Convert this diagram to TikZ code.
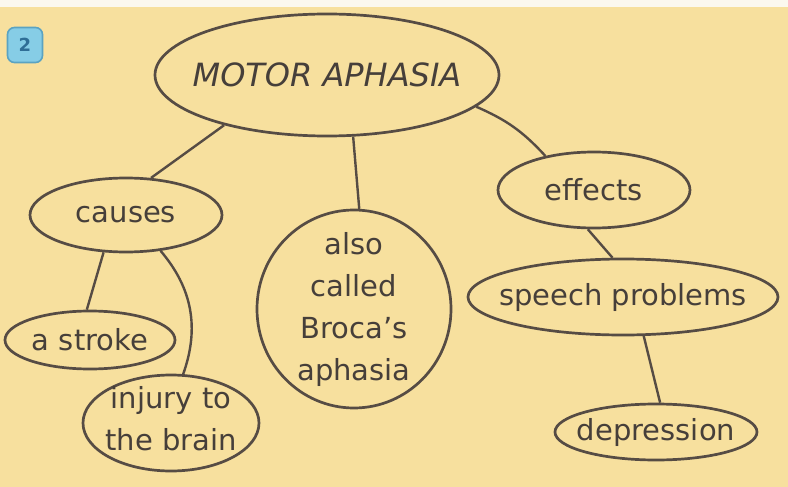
\documentclass[tikz,border=0pt]{standalone}
\usepackage{fontspec}
\setmainfont{DejaVu Sans}
\usetikzlibrary{shapes.geometric}
\definecolor{bg}{HTML}{F7E09E}
\definecolor{topstrip}{HTML}{FBF8EF}
\definecolor{ink}{HTML}{564C44}
\definecolor{txt}{HTML}{463F3A}
\definecolor{badgefill}{HTML}{86CDE6}
\definecolor{badgeborder}{HTML}{5AA3C2}
\definecolor{badgetext}{HTML}{2F6E96}
\begin{document}
\begin{tikzpicture}[x=1pt,y=-1pt,
  bubble/.style={ellipse, draw=ink, line width=2.7pt, inner sep=0pt},
  lbl/.style={text=txt, font=\fontsize{29}{42}\selectfont, align=center, inner sep=0pt},
  conn/.style={draw=ink, line width=2.4pt}]
\useasboundingbox (0,0) rectangle (788,487);
\fill[topstrip] (0,0) rectangle (788,7);
\fill[bg] (0,7) rectangle (788,487);

\node[draw=badgeborder, fill=badgefill, rounded corners=7pt, minimum width=35pt, minimum height=35pt, line width=1.6pt, text=badgetext, font=\bfseries\fontsize{18}{18}\selectfont] (badge) at (25,45) {2};

\node[bubble, minimum width=344pt, minimum height=122pt] (motor) at (327,75) {};
\node[lbl, font=\itshape\fontsize{32}{38}\selectfont] (motor-t) at (motor) {MOTOR APHASIA};

\node[bubble, minimum width=192pt, minimum height=74pt] (causes) at (126,215) {};
\node[lbl] (causes-t) at (causes) {causes};

\node[bubble, minimum width=170pt, minimum height=58pt] (stroke) at (90,340) {};
\node[lbl] (stroke-t) at (stroke) {a stroke};

\node[bubble, minimum width=176pt, minimum height=96pt] (injury) at (171,423) {};
\node[lbl] (injury-t) at ([yshift=4pt]injury.center) {injury to\\the brain};

\node[bubble, minimum width=194pt, minimum height=198pt] (also) at (354,309) {};
\node[lbl] (also-t) at (also) {also\\called\\Broca’s\\aphasia};

\node[bubble, minimum width=192pt, minimum height=76pt] (effects) at (594,190) {};
\node[lbl] (effects-t) at (effects) {effects};

\node[bubble, minimum width=310pt, minimum height=76pt] (speech) at (623,297) {};
\node[lbl] (speech-t) at (speech) {speech problems};

\node[bubble, minimum width=202pt, minimum height=56pt] (depression) at (656,432) {};
\node[lbl] (depression-t) at (depression) {depression};

\draw[conn] (motor.206) -- (causes.56);
\draw[conn] (motor.293) -- (also.87);
\draw[conn] (motor.348) to[bend left=12] (effects.145);
\draw[conn] (causes.239) -- (stroke.96);
\draw[conn] (causes.314) to[bend left=30] (injury.76);
\draw[conn] (effects.261) -- (speech.105);
\draw[conn] (speech.298) -- (depression.82);
\end{tikzpicture}
\end{document}
